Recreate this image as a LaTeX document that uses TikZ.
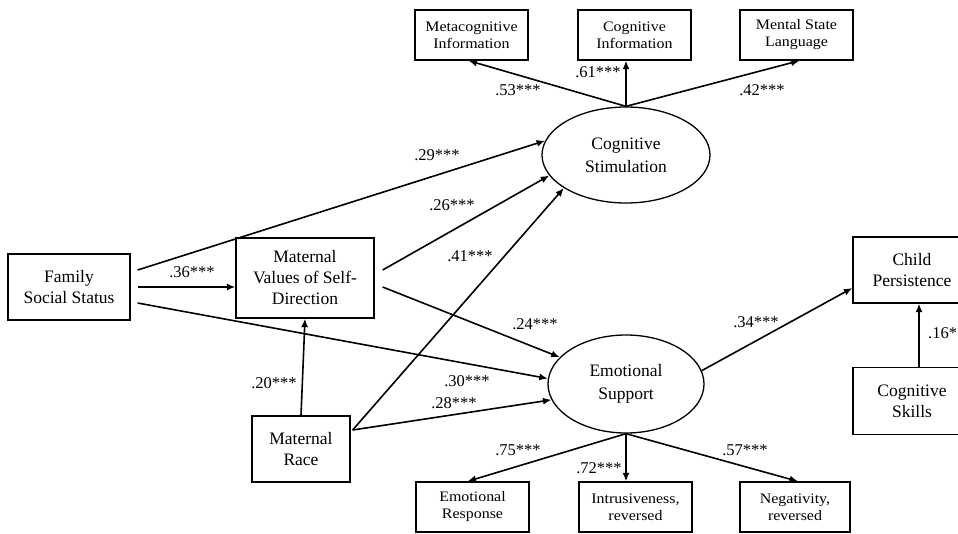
\documentclass[tikz,border=0pt]{standalone}
\usepackage{fontspec}
\setmainfont{Liberation Serif}
\newfontfamily\smallserif{Liberation Serif}[FakeStretch=1.1]
\usetikzlibrary{shapes.geometric,arrows.meta,calc}
\begin{document}
\begin{tikzpicture}[x=1pt,y=-1pt,
  box/.style={draw,line width=1.3pt,inner sep=0pt,align=center,font=\fontsize{17.5}{21}\selectfont},
  sbox/.style={draw,line width=1.3pt,inner sep=0pt,align=center,font=\smallserif\fontsize{14.5}{17}\selectfont,minimum width=113pt,minimum height=50pt},
  lat/.style={draw,ellipse,line width=1.3pt,inner sep=0pt,align=center,font=\fontsize{17.5}{23}\selectfont},
  arr/.style={line width=1.6pt,-{Latex[length=8.5pt,width=7pt]}},
  coef/.style={font=\fontsize{16.5}{18}\selectfont,inner sep=0pt}]
\useasboundingbox (0,0) rectangle (958,533);
\clip (0,0) rectangle (958,533);
\fill[white] (0,0) rectangle (958,533);
% observed boxes
\node[box,minimum width=122pt,minimum height=66pt] (fss) at (69,287) {Family\\Social Status};
\node[box,minimum width=138pt,minimum height=80pt] (mv) at (305,278) {Maternal\\Values of Self-\\Direction};
\node[box,minimum width=98pt,minimum height=66pt] (mr) at (301,449) {Maternal\\Race};
\node[box,minimum width=118pt,minimum height=66pt] (cp) at (912,270) {Child\\Persistence};
\node[box,minimum width=118pt,minimum height=67pt] (csk) at (912,401) {Cognitive\\Skills};
\node[sbox] (meta) at (471.5,35) {Metacognitive\\Information};
\node[sbox] (cinf) at (634.5,35) {Cognitive\\Information};
\node[sbox] (msl) at (796.5,35) {Mental State\\Language};
\node[sbox] (er) at (472.5,507) {Emotional\\Response};
\node[sbox] (intr) at (635.5,507) {Intrusiveness,\\reversed};
\node[sbox,minimum width=110pt] (neg) at (795,507) {Negativity,\\reversed};
% latent
\node[lat,minimum width=168pt,minimum height=96pt] (cs) at (626,155) {Cognitive\\Stimulation};
\node[lat,minimum width=156pt,minimum height=98pt] (es) at (626,384) {Emotional\\Support};
% start coordinates
\coordinate (f1) at ($(fss.east)+(7,-17)$);
\coordinate (f2) at ($(fss.east)+(7,0)$);
\coordinate (f3) at ($(fss.east)+(7,16)$);
\coordinate (m1) at ($(mv.east)+(8,-8)$);
\coordinate (m2) at ($(mv.east)+(8,9)$);
\coordinate (r1) at ($(mr.east)+(2,-19)$);
% structural paths
\draw[arr] (f1) -- (cs.170);
\draw[arr] (f2) -- (mv.west |- f2);
\draw[arr] (f3) -- (es.176);
\draw[arr] (m1) -- (cs.195);
\draw[arr] (m2) -- (es.158);
\draw[arr] (mr.north) -- (mv.south);
\draw[arr] (r1) -- (cs.208);
\draw[arr] (r1) -- (es.192);
\draw[arr] (es.10) -- ($(cp.west)+(0,18)$);
\draw[arr] ($(csk.north)+(7,0)$) -- ($(cp.south)+(7,0)$);
% measurement paths
\draw[arr] (cs.north) -- ($(meta.south)+(-3,0)$);
\draw[arr] (cs.north) -- (cs.north |- cinf.south);
\draw[arr] (cs.north) -- ($(msl.south)+(3,0)$);
\draw[arr] (es.south) -- ($(er.north)+(-5,0)$);
\draw[arr] (es.south) -- (es.south |- intr.north);
\draw[arr] (es.south) -- ($(neg.north)+(3,0)$);
% coefficients
\node[coef] (c29) at (437,155) {.29***};
\node[coef] (c36) at (192,272) {.36***};
\node[coef] (c26) at (452,205) {.26***};
\node[coef] (c41) at (470,256) {.41***};
\node[coef] (c24) at (535,324) {.24***};
\node[coef] (c30) at (467,381) {.30***};
\node[coef] (c20) at (274,383) {.20***};
\node[coef] (c28) at (454,403) {.28***};
\node[coef] (c34) at (756,322) {.34***};
\node[coef,anchor=west] (c16) at (928,333) {.16*};
\node[coef] (c53) at (518,90) {.53***};
\node[coef] (c61) at (598,72) {.61***};
\node[coef] (c42) at (762,90) {.42***};
\node[coef] (c75) at (518,450) {.75***};
\node[coef] (c72) at (599,468) {.72***};
\node[coef] (c57) at (745,450) {.57***};
\end{tikzpicture}
\end{document}
